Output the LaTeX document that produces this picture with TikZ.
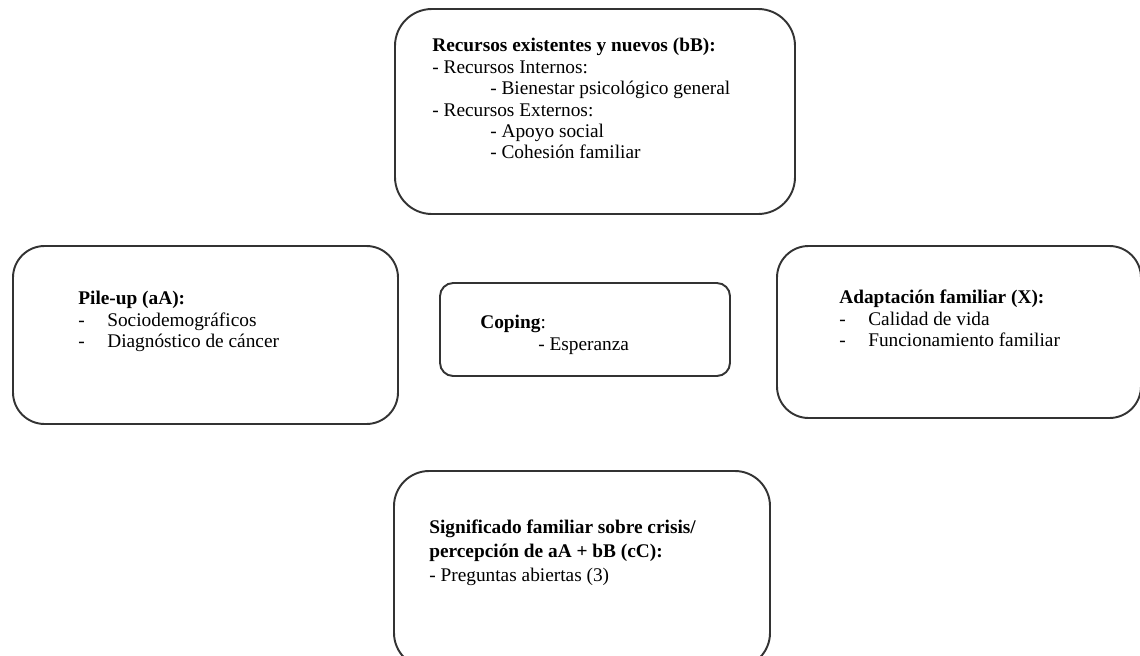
\documentclass[tikz,border=0pt]{standalone}
\usepackage{fontspec}
\setmainfont{Liberation Serif}
\usetikzlibrary{positioning}

\tikzset{
  box/.style={draw=black!80, line width=1.1pt},
  txt/.style={anchor=north west, align=left, inner sep=0pt,
    font=\fontsize{11}{12.2}\selectfont}
}
\newcommand{\dashitem}[1]{\makebox[16.5pt][l]{-}#1}

\begin{document}
\begin{tikzpicture}[x=0.02cm, y=-0.02cm]
                % Picture frame, pixels of the reference
                \useasboundingbox (0,0) rectangle (1140,656);
                \clip (0,0) rectangle (1140,656);

                % Draw the five rounded boxes
                \draw[box, rounded corners=21pt] (395,9) rectangle (795,214);    % Resources
                \draw[box, rounded corners=18pt] (13,246) rectangle (398,424);   % Pile-up
                \draw[box, rounded corners=7.5pt] (440,283) rectangle (730,376); % Coping
                \draw[box, rounded corners=18pt] (777,246) rectangle (1141,418); % Adaptation
                \draw[box, rounded corners=20pt] (394,471) rectangle (770,668);  % Meaning

                % Labels
                \node[txt] (recursos) at (432,38) {\textbf{Recursos existentes y nuevos (bB):}\\
                  - Recursos Internos:\\
                  \hspace*{33pt}- Bienestar psicológico general\\
                  - Recursos Externos:\\
                  \hspace*{33pt}- Apoyo social\\
                  \hspace*{33pt}- Cohesión familiar};
                \node[txt] (pileup) at (78,291) {\textbf{Pile-up (aA):}\\
                  \dashitem{Sociodemográficos}\\
                  \dashitem{Diagnóstico de cáncer}};
                \node[txt] (coping) at (480,315) {\textbf{Coping}:\\
                  \hspace*{33pt}- Esperanza};
                \node[txt] (adaptacion) at (839,290) {\textbf{Adaptación familiar (X):}\\
                  \dashitem{Calidad de vida}\\
                  \dashitem{Funcionamiento familiar}};
                \node[txt, font=\fontsize{11}{13.4}\selectfont] (significado) at (429,520)
                  {\textbf{Significado familiar sobre crisis/}\\
                  \textbf{percepción de aA + bB (cC):}\\
                  - Preguntas abiertas (3)};
            \end{tikzpicture}
\end{document}
